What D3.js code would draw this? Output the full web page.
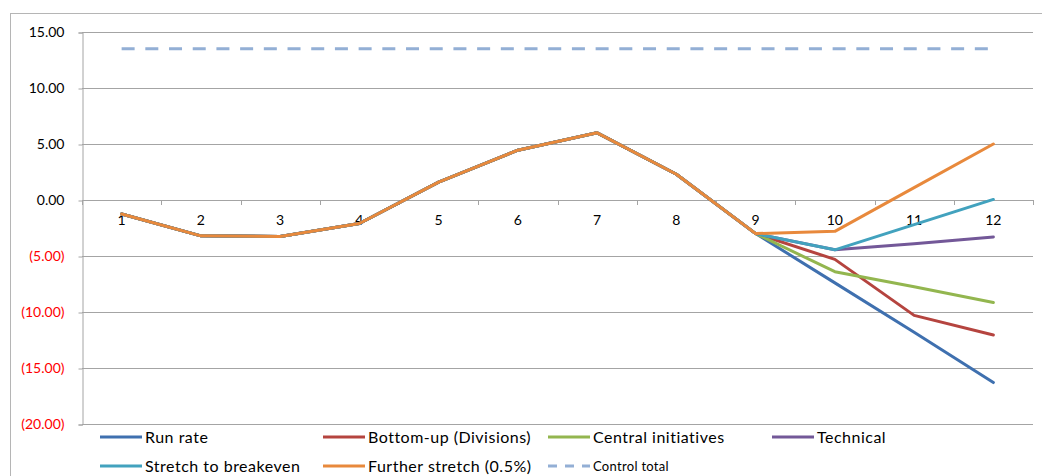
<!DOCTYPE html>
<html>
<head>
<meta charset="utf-8">
<script src="https://cdn.jsdelivr.net/npm/d3@7"></script>
<style>
  html, body { margin: 0; padding: 0; background: #fff; }
  svg { display: block; font-family: Lato, "Open Sans", "Liberation Sans", sans-serif; }
</style>
</head>
<body>
<svg id="chart" width="1042" height="476"></svg>
<script>
// Periods on the category axis
const periods = [1, 2, 3, 4, 5, 6, 7, 8, 9, 10, 11, 12];

// Shared actuals for periods 1–9, then each scenario diverges
const runRate        = [-1.25, -3.2, -3.25, -2.1, 1.6, 4.45, 6.0, 2.3, -3.0, -7.4, -11.8, -16.3];
const bottomUp       = [-1.25, -3.2, -3.25, -2.1, 1.6, 4.45, 6.0, 2.3, -3.0, -5.3, -10.3, -12.05];
const centralInit    = [-1.25, -3.2, -3.25, -2.1, 1.6, 4.45, 6.0, 2.3, -3.0, -6.4, -7.75, -9.15];
const technical      = [-1.25, -3.2, -3.25, -2.1, 1.6, 4.45, 6.0, 2.3, -3.0, -4.45, -3.9, -3.3];
const stretchBreak   = [-1.25, -3.2, -3.25, -2.1, 1.6, 4.45, 6.0, 2.3, -3.0, -4.45, -2.2, 0.05];
const furtherStretch = [-1.25, -3.2, -3.25, -2.1, 1.6, 4.45, 6.0, 2.3, -3.0, -2.8, 1.1, 5.0];
const controlTotal   = [13.5, 13.5, 13.5, 13.5, 13.5, 13.5, 13.5, 13.5, 13.5, 13.5, 13.5, 13.5];

const seriesNames  = ["Run rate", "Bottom-up (Divisions)", "Central initiatives", "Technical",
                      "Stretch to breakeven", "Further stretch (0.5%)", "Control total"];
const seriesColors = ["#3F70AF", "#B5443F", "#93B64F", "#735898", "#42A2BE", "#E8893C", "#93AFD5"];
const seriesValues = [runRate, bottomUp, centralInit, technical, stretchBreak, furtherStretch, controlTotal];

const yTicks = [-20, -15, -10, -5, 0, 5, 10, 15];

const svg = d3.select("#chart");

// Chart area frame
svg.append("rect")
  .attr("x", 10.5).attr("y", 13.5)
  .attr("width", 1040).attr("height", 480)
  .attr("fill", "#fff").attr("stroke", "#b5b5b5").attr("stroke-width", 1);

const plot = { left: 82, right: 1033, top: 32, bottom: 424 };

const x = d3.scalePoint().domain(periods).range([plot.left, plot.right]).padding(0.5);
const y = d3.scaleLinear().domain([-20, 15]).range([plot.bottom, plot.top]);

const fmt = v => {
  const s = d3.format(".2f")(Math.abs(v));
  return v < 0 ? "(" + s + ")" : s;
};

const gridColor = "#a4a4a4";

// Horizontal gridlines
svg.append("g")
  .selectAll("line").data(yTicks).join("line")
  .attr("x1", plot.left).attr("x2", plot.right)
  .attr("y1", d => Math.round(y(d)) + 0.5).attr("y2", d => Math.round(y(d)) + 0.5)
  .attr("stroke", gridColor).attr("stroke-width", 1);

// Value axis
const yAxis = svg.append("g")
  .attr("transform", `translate(${plot.left + 0.5},0.5)`)
  .call(d3.axisLeft(y).tickValues(yTicks).tickFormat(fmt).tickSize(4).tickPadding(14));
yAxis.select(".domain").attr("stroke", gridColor);
yAxis.selectAll(".tick line").attr("stroke", gridColor);
yAxis.selectAll(".tick text")
  .attr("font-size", 14)
  .attr("font-family", "Lato, 'Open Sans', sans-serif")
  .attr("fill", d => d < 0 ? "#FF0000" : "#000");

// Category axis crossing at zero, tick marks between categories
const step = x.step();
const boundaries = d3.range(periods.length + 1).map(i => plot.left + i * step);
const xAxis = svg.append("g");
xAxis.selectAll("line.tk").data(boundaries).join("line")
  .attr("class", "tk")
  .attr("x1", d => Math.round(d) + 0.5).attr("x2", d => Math.round(d) + 0.5)
  .attr("y1", y(0)).attr("y2", y(0) + 5)
  .attr("stroke", gridColor);
xAxis.selectAll("text").data(periods).join("text")
  .attr("x", d => x(d))
  .attr("y", y(0) + 25)
  .attr("text-anchor", "middle")
  .attr("font-size", 14)
  .attr("fill", "#000")
  .text(d => d);

// Series lines
const line = d3.line()
  .x((d, i) => x(periods[i]))
  .y(d => y(d));

seriesValues.forEach((vals, i) => {
  const dashed = i === 6;
  svg.append("path")
    .datum(vals)
    .attr("d", line)
    .attr("fill", "none")
    .attr("stroke", seriesColors[i])
    .attr("stroke-width", 3)
    .attr("stroke-linejoin", "round")
    .attr("stroke-dasharray", dashed ? "13,10.7" : null)
    .attr("stroke-linecap", dashed ? "butt" : "round");
});

// Legend
const legendCols = [100, 323, 548, 772];
const legendRows = [437, 466];
const legend = svg.append("g");
seriesNames.forEach((name, i) => {
  const cx = legendCols[i % 4];
  const cy = legendRows[Math.floor(i / 4)];
  const dashed = i === 6;
  legend.append("line")
    .attr("x1", cx).attr("x2", cx + 42)
    .attr("y1", cy).attr("y2", cy)
    .attr("stroke", seriesColors[i])
    .attr("stroke-width", 3)
    .attr("stroke-dasharray", dashed ? "9,8" : null);
  legend.append("text")
    .attr("x", cx + 45)
    .attr("y", cy + (dashed ? 4.5 : 5.5))
    .attr("font-size", dashed ? 13 : 16)
    .attr("letter-spacing", dashed ? 0.3 : 0.5)
    .attr("fill", "#000")
    .text(name);
});
</script>
</body>
</html>
